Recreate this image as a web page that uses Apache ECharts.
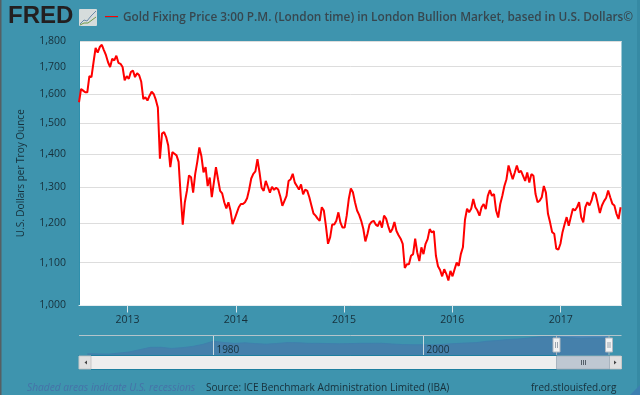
<!DOCTYPE html>
<html><head><meta charset="utf-8">
<style>html,body{margin:0;padding:0;background:#3e94ae}#c{width:640px;height:395px}</style>
<script src="https://cdn.jsdelivr.net/npm/echarts@6/dist/echarts.min.js"></script>
</head><body><div id="c"></div>
<script>
const chartTitle = 'Gold Fixing Price 3:00 P.M. (London time) in London Bullion Market, based in U.S. Dollars©';
const yAxisName = 'U.S. Dollars per Troy Ounce';
const yTicks = [1000,1100,1200,1300,1400,1500,1600,1700,1800];
const xTickYears = ['2013-01-01','2014-01-01','2015-01-01','2016-01-01','2017-01-01'];
const firstWeek = '2012-07-21';
const goldWeekly = [
1571,1618,1612,1606,1606,1665,1661,1717,1773,1754,1776,1785,1764,1744,1717,1699,1730,1724,1742,1715,
1711,1699,1649,1665,1655,1680,1686,1661,1676,1668,1644,1582,1588,1577,1594,1608,1600,1580,1553,1386,
1465,1470,1454,1427,1360,1406,1401,1396,1376,1276,1197,1258,1290,1335,1330,1285,1340,1376,1421,1393,
1344,1360,1304,1329,1272,1315,1360,1324,1290,1283,1258,1241,1258,1235,1198,1212,1228,1244,1253,1253,
1258,1269,1294,1326,1340,1347,1384,1344,1299,1290,1319,1302,1285,1302,1293,1299,1294,1274,1248,1262,
1276,1319,1324,1340,1314,1304,1294,1309,1280,1294,1290,1272,1249,1227,1221,1213,1207,1244,1235,1193,
1147,1163,1197,1197,1207,1230,1202,1189,1189,1221,1267,1297,1286,1258,1235,1223,1207,1186,1153,1172,
1197,1204,1207,1197,1193,1207,1189,1221,1213,1193,1176,1185,1204,1180,1169,1160,1147,1087,1096,1096,
1117,1121,1160,1125,1104,1138,1121,1147,1159,1185,1176,1180,1117,1091,1082,1067,1084,1073,1057,1080,
1067,1084,1100,1092,1121,1138,1210,1240,1230,1240,1267,1244,1235,1221,1244,1253,1239,1276,1292,1276,
1281,1235,1216,1253,1276,1304,1324,1365,1344,1324,1344,1365,1344,1349,1334,1319,1344,1314,1339,1334,
1281,1258,1262,1272,1304,1285,1226,1203,1177,1173,1135,1132,1147,1177,1198,1217,1194,1217,1240,1235,
1244,1258,1217,1203,1244,1258,1249,1263,1286,1280,1254,1228,1249,1261,1270,1291,1272,1254,1249,1226,
1212,1244];
const navYears = [1968,1970,1972,1973,1974,1975,1976,1977,1978,1979,1980,1981,1982,1983,1984,1985,1986,1987,1988,1989,1990,1991,1992,1993,1994,1995,1996,1997,1998,1999,2000,2001,2002,2003,2004,2005,2006,2007,2008,2009,2010,2011,2012,2013,2014,2015,2016,2017.56];
const navGold = [39,36,58,97,159,161,125,148,193,307,612,460,376,424,361,317,368,447,437,381,383,362,344,360,384,384,388,331,294,279,279,271,310,363,410,445,603,696,872,972,1225,1572,1669,1411,1266,1160,1248,1250];
const navTicks = ['1980-01-01','2000-01-01'];
const sourceText = 'Source: ICE Benchmark Administration Limited (IBA)';
const recessionText = 'Shaded areas indicate U.S. recessions';
const siteText = 'fred.stlouisfed.org';
const logoText = 'FRED';

const DAY = 86400000;
const parse = s => Date.parse(s + 'T00:00:00Z');
const t0 = parse(firstWeek);
const goldData = goldWeekly.map((v, i) => [t0 + i * 7 * DAY, v]);
const yearT = y => { const f = Math.floor(y); return Date.UTC(f,0,1) + (y-f)*365.25*DAY; };
const navData = navYears.map((y, i) => [yearT(y), navGold[i]]);
const textCol = '#17303b', font = '"Open Sans"';
const yearLabel = v => String(new Date(v + 2*DAY).getUTCFullYear());

const chart = echarts.init(document.getElementById('c'), null, {renderer:'canvas'});
chart.setOption({
  animation:false,
  backgroundColor:'#3e94ae',
  title:{text:chartTitle,left:118,top:7,textStyle:{color:'#37474f',fontFamily:font,fontSize:11.8,fontWeight:600}},
  grid:[
    {left:79,top:41,width:542.5,height:264.5,backgroundColor:'#fff',show:true,borderWidth:0},
    {left:79,top:336,width:542.5,height:19,show:false}
  ],
  xAxis:[
    {type:'value',gridIndex:0,min:Date.UTC(2012,6,21),max:Date.UTC(2017,6,25),
     axisLine:{show:true,lineStyle:{color:'#e6eef1',width:1}},
     axisTick:{show:true,length:7,customValues:xTickYears.map(parse),lineStyle:{color:'#dce8ec'}},
     axisLabel:{color:textCol,fontFamily:font,fontSize:10.5,margin:9,
       customValues:xTickYears.map(parse),formatter:yearLabel},
     splitLine:{show:false}},
    {type:'value',gridIndex:1,z:6,min:yearT(1967.2),max:yearT(2018.85),
     axisLine:{show:true,lineStyle:{color:'#1d7f9f',width:1}},
     axisTick:{show:true,inside:true,length:19,customValues:navTicks.map(parse),lineStyle:{color:'#c9dbe2'}},
     axisLabel:{inside:true,color:textCol,fontFamily:font,fontSize:10,margin:0,align:'left',padding:[0,0,0,3],
       customValues:navTicks.map(parse),formatter:yearLabel},
     splitLine:{show:false}}
  ],
  yAxis:[
    {type:'log',gridIndex:0,min:1000,max:1800,
     name:yAxisName,nameLocation:'middle',nameGap:53,
     nameTextStyle:{color:textCol,fontFamily:font,fontSize:10},
     axisLine:{show:true,lineStyle:{color:'#2f8fac',width:1}},
     axisTick:{show:false,customValues:yTicks},
     axisLabel:{color:textCol,fontFamily:font,fontSize:10.5,margin:13,customValues:yTicks,
       formatter:v=>Math.round(v).toLocaleString('en-US')},
     splitLine:{show:true,lineStyle:{color:'#dddddd',width:1}}},
    {type:'log',gridIndex:1,min:30,max:1900,show:false}
  ],
  series:[
    {type:'line',name:'gold',xAxisIndex:0,yAxisIndex:0,data:goldData,showSymbol:false,
     lineStyle:{color:'#ff0000',width:2},itemStyle:{color:'#ff0000'},clip:true,z:5},
    {type:'line',name:'nav',xAxisIndex:1,yAxisIndex:1,data:navData,showSymbol:false,
     lineStyle:{color:'#3f80ad',width:1},areaStyle:{color:'#4580ab',opacity:1,origin:'start'},
     markArea:{silent:true,itemStyle:{color:'#5189b8',opacity:.95},
       data:[[{xAxis:parse('2012-07-25')},{xAxis:yearT(2017.56)}]]},z:2}
  ],
  graphic:[
    {type:'rect',shape:{x:0,y:0,width:1.5,height:395},style:{fill:'#555f63'}},
    {type:'rect',shape:{x:637,y:0,width:3,height:395},style:{fill:'#368aa4'}},
    {type:'polygon',shape:{points:[[640,395],[640,385],[630,395]]},style:{fill:'#3c7fb0'}},
    {type:'text',x:8,y:4,style:{text:logoText,fontFamily:'"Liberation Sans"',fontWeight:'bold',fontSize:24,fill:'#231f20'}},
    {type:'rect',shape:{x:79,y:9,width:18,height:17,r:1},style:{fill:'#d6dcdc'}},
    {type:'polyline',shape:{points:[[80,24],[84,20],[87,21],[91,16],[96,11]]},style:{fill:'none',stroke:'#6a8aa8',lineWidth:1}},
    {type:'polyline',shape:{points:[[80,25],[84,23],[88,23],[92,20],[96,17]]},style:{fill:'none',stroke:'#6f9a4a',lineWidth:1}},
    {type:'line',shape:{x1:105,y1:17.5,x2:118,y2:17.5},style:{stroke:'#1f8aa0',lineWidth:1}},
    {type:'line',shape:{x1:105,y1:16.5,x2:118,y2:16.5},style:{stroke:'#ff0000',lineWidth:1}},
    {type:'line',z:10,shape:{x1:79,y1:335.5,x2:621.5,y2:335.5},style:{stroke:'#b3c4cb',lineWidth:1}},
    {type:'rect',z:10,shape:{x:79,y:356,width:542.5,height:13},style:{fill:'#eeeeee'}},
    {type:'line',z:10,shape:{x1:79,y1:369.5,x2:621.5,y2:369.5},style:{stroke:'#1d7f9f',lineWidth:1}},
    {type:'rect',z:11,shape:{x:79,y:356,width:12,height:13},style:{fill:'#e0e0e0',stroke:'#c8c8c8',lineWidth:1}},
    {type:'polygon',z:12,shape:{points:[[87,360.5],[87,364.5],[84.5,362.5]]},style:{fill:'#444'}},
    {type:'rect',z:11,shape:{x:609.5,y:356,width:12,height:13},style:{fill:'#e0e0e0',stroke:'#c8c8c8',lineWidth:1}},
    {type:'polygon',z:12,shape:{points:[[614,360.5],[614,364.5],[616.5,362.5]]},style:{fill:'#444'}},
    {type:'rect',z:11,shape:{x:556.5,y:356,width:53,height:13},style:{fill:'#bfc8d2',stroke:'#a9b4bf',lineWidth:1}},
    {type:'line',z:12,shape:{x1:581.5,y1:360,x2:581.5,y2:365},style:{stroke:'#55606a',lineWidth:1}},
    {type:'line',z:12,shape:{x1:583.5,y1:360,x2:583.5,y2:365},style:{stroke:'#55606a',lineWidth:1}},
    {type:'line',z:12,shape:{x1:585.5,y1:360,x2:585.5,y2:365},style:{stroke:'#55606a',lineWidth:1}},
    {type:'line',z:10,shape:{x1:556.5,y1:336,x2:556.5,y2:355},style:{stroke:'#a9b4bf',lineWidth:1}},
    {type:'line',z:10,shape:{x1:609,y1:336,x2:609,y2:355},style:{stroke:'#a9b4bf',lineWidth:1}},
    {type:'rect',z:12,shape:{x:553,y:338,width:7,height:14},style:{fill:'#f2f2f2',stroke:'#b0b8c0',lineWidth:1}},
    {type:'rect',z:12,shape:{x:605.5,y:338,width:7,height:14},style:{fill:'#f2f2f2',stroke:'#b0b8c0',lineWidth:1}},
    {type:'line',z:13,shape:{x1:555.5,y1:342,x2:555.5,y2:348},style:{stroke:'#9aa4ae',lineWidth:1}},
    {type:'line',z:13,shape:{x1:557.5,y1:342,x2:557.5,y2:348},style:{stroke:'#9aa4ae',lineWidth:1}},
    {type:'line',z:13,shape:{x1:608,y1:342,x2:608,y2:348},style:{stroke:'#9aa4ae',lineWidth:1}},
    {type:'line',z:13,shape:{x1:610,y1:342,x2:610,y2:348},style:{stroke:'#9aa4ae',lineWidth:1}},
    {type:'text',x:27,y:383,style:{text:recessionText,fontFamily:font,fontStyle:'italic',fontSize:10.2,fill:'#4672a8'}},
    {type:'text',x:206,y:383,style:{text:sourceText,fontFamily:font,fontSize:10.1,fill:textCol}},
    {type:'text',x:531,y:383,style:{text:siteText,fontFamily:font,fontSize:10,fill:textCol}}
  ]
});
</script></body></html>
